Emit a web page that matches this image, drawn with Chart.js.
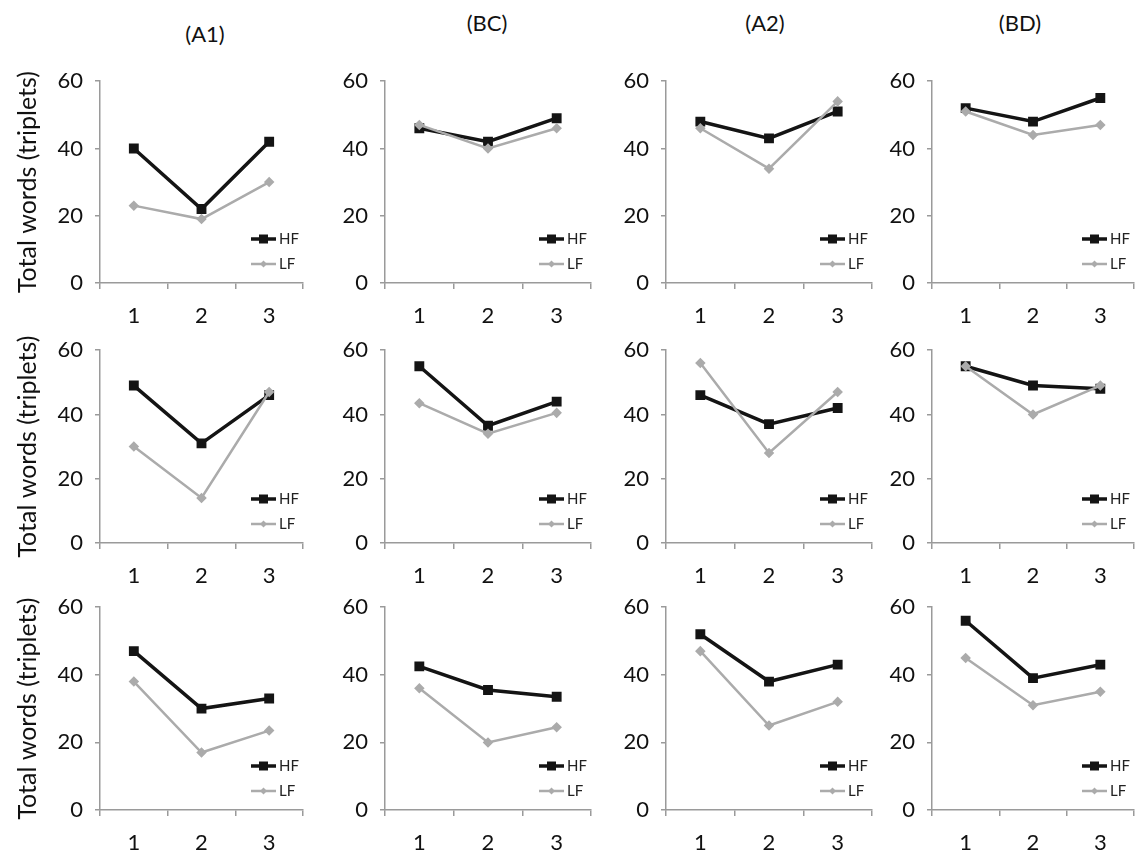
<!DOCTYPE html>
<html><head><meta charset="utf-8">
<script src="https://cdn.jsdelivr.net/npm/chart.js@4.4.1/dist/chart.umd.min.js"></script>
<style>
html,body{margin:0;padding:0;background:#fff;}
#wrap{position:relative;width:1140px;height:854px;overflow:hidden;background:#fff;}
#wrap canvas{position:absolute;}
.ptitle{position:absolute;font-family:Lato,sans-serif;font-size:22px;color:#111;transform:translate(-50%,-50%);white-space:nowrap;}
</style></head><body><div id="wrap"></div>
<script>
// ---- data ----
const categories = ['1','2','3'];
const panelTitles = ['(A1)','(BC)','(A2)','(BD)'];
const seriesLabels = ['HF','LF'];
const yTicks = [0,20,40,60];
const yAxisTitle = 'Total words (triplets)';

const row1HF = [[40,22,42],[46,42,49],[48,43,51],[52,48,55]];
const row1LF = [[23,19,30],[47,40,46],[46,34,54],[51,44,47]];
const row2HF = [[49,31,46],[55,36.5,44],[46,37,42],[55,49,48]];
const row2LF = [[30,14,47],[43.5,34,40.5],[56,28,47],[55,40,49]];
const row3HF = [[47,30,33],[42.5,35.5,33.5],[52,38,43],[56,39,43]];
const row3LF = [[38,17,23.5],[36,20,24.5],[47,25,32],[45,31,35]];

const rowsHF = [row1HF,row2HF,row3HF];
const rowsLF = [row1LF,row2LF,row3LF];

// ---- layout (positions, not data) ----
const colX = [[100,307],[385,595],[666,876],[932,1138]];
const rowY = [[72,283],[341,543],[598,810]];
const titlePos = [[205,33],[487,22],[765,22],[1020,22]];
const PT = 16, PR = 4, XH = 52, YW = 60;
const FONT = 'Lato';
const AXIS = '#9a9a9a';
const TXT = '#111';

const wrap = document.getElementById('wrap');

panelTitles.forEach((t,i)=>{
  const d = document.createElement('div');
  d.className='ptitle'; d.textContent=t;
  d.style.left = titlePos[i][0]+'px'; d.style.top = titlePos[i][1]+'px';
  wrap.appendChild(d);
});

const cornerLegend = {
  id:'cornerLegend',
  afterDatasetsDraw(chart){
    const {ctx, chartArea} = chart;
    const offs = [44, 19];
    chart.data.datasets.forEach((ds,i)=>{
      const y = chartArea.bottom - offs[i];
      const x0 = chartArea.right - 52, x1 = chartArea.right - 27;
      ctx.save();
      ctx.strokeStyle = ds.borderColor; ctx.lineWidth = ds.borderWidth;
      ctx.beginPath(); ctx.moveTo(x0,y); ctx.lineTo(x1,y); ctx.stroke();
      const cx = (x0+x1)/2, r = ds.pointRadius;
      ctx.fillStyle = ds.pointBackgroundColor;
      ctx.beginPath();
      if (ds.pointStyle === 'rectRot') {
        ctx.moveTo(cx, y-r); ctx.lineTo(cx+r, y); ctx.lineTo(cx, y+r); ctx.lineTo(cx-r, y); ctx.closePath();
      } else {
        ctx.rect(cx-r, y-r, 2*r, 2*r);
      }
      ctx.fill();
      ctx.fillStyle = '#222';
      ctx.font = '15px ' + FONT;
      ctx.textBaseline = 'middle'; ctx.textAlign = 'left';
      ctx.fillText(ds.label, x1+3, y);
      ctx.restore();
    });
  }
};

for (let r=0;r<3;r++){
  for (let c=0;c<4;c++){
    const yw = c===0 ? colX[0][0] : YW;
    const plotW = colX[c][1]-colX[c][0];
    const plotH = rowY[r][1]-rowY[r][0];
    const cv = document.createElement('canvas');
    cv.width = yw + plotW + PR;
    cv.height = PT + plotH + XH;
    cv.style.left = (colX[c][0]-yw)+'px';
    cv.style.top = (rowY[r][0]-PT)+'px';
    cv.style.width = cv.width+'px'; cv.style.height = cv.height+'px';
    wrap.appendChild(cv);
    new Chart(cv, {
      type:'line',
      data:{
        labels: categories,
        datasets:[
          {label:seriesLabels[0], data:rowsHF[r][c], borderColor:'#141414', backgroundColor:'#141414',
           pointBackgroundColor:'#141414', pointBorderColor:'#141414', borderWidth:3.5,
           pointStyle:'rect', pointRadius:4.5, tension:0, order:1},
          {label:seriesLabels[1], data:rowsLF[r][c], borderColor:'#ababab', backgroundColor:'#ababab',
           pointBackgroundColor:'#ababab', pointBorderColor:'#ababab', borderWidth:2.5,
           pointStyle:'rectRot', pointRadius:3.5, tension:0, order:0}
        ]
      },
      options:{
        responsive:false, animation:false, devicePixelRatio:1,
        layout:{padding:{left:0,top:PT,right:PR,bottom:0}},
        plugins:{legend:{display:false}, tooltip:{enabled:false}, title:{display:false}},
        scales:{
          x:{
            type:'category', offset:true,
            grid:{offset:true, drawOnChartArea:false, drawTicks:true, tickLength:6, color:AXIS, lineWidth:1.5},
            border:{color:AXIS, width:1.5},
            ticks:{color:TXT, font:{family:FONT,size:22}, padding:14, maxRotation:0, autoSkip:false},
            afterFit(s){ s.height = XH; }
          },
          y:{
            min:0, max:60,
            afterBuildTicks(s){ s.ticks = yTicks.map(v=>({value:v})); },
            grid:{drawOnChartArea:false, drawTicks:true, tickLength:5, color:AXIS, lineWidth:1.5},
            border:{color:AXIS, width:1.5},
            ticks:{color:TXT, font:{family:FONT,size:22}, padding:12},
            title: c===0 ? {display:true, text:yAxisTitle, color:TXT, font:{family:FONT,size:25}, padding:{top:13,bottom:0}} : {display:false},
            afterFit(s){ s.width = yw; }
          }
        }
      },
      plugins:[cornerLegend]
    });
  }
}
</script></body></html>
